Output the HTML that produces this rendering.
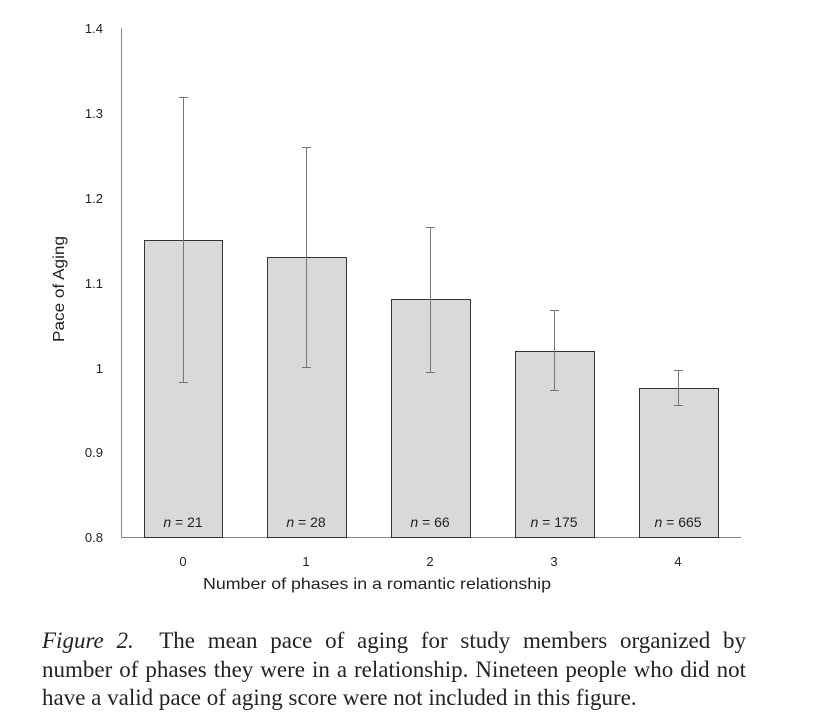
<!DOCTYPE html>
<html><head><style>
body{margin:0;background:#fff;width:826px;height:723px;overflow:hidden}
.cap{position:absolute;left:42px;top:627px;width:704px;font-family:"Liberation Serif",serif;font-size:23px;line-height:28.5px;color:#222}
.cap div{text-align:justify;text-align-last:justify;white-space:nowrap}
.cap div.last{text-align-last:left}
</style></head><body>
<svg width="826" height="723" style="position:absolute;left:0;top:0" font-family="Liberation Sans, sans-serif">
<g font-size="13" fill="#222" text-anchor="end">
<text x="103" y="33">1.4</text><text x="103" y="118">1.3</text><text x="103" y="203">1.2</text>
<text x="103" y="288">1.1</text><text x="103" y="373">1</text><text x="103" y="457">0.9</text><text x="103" y="542">0.8</text>
</g>
<line x1="121.5" y1="28" x2="121.5" y2="537" stroke="#888" stroke-width="1"/>
<line x1="121" y1="537.5" x2="741" y2="537.5" stroke="#888" stroke-width="1"/>
<g fill="#d9d9d9" stroke="#333" stroke-width="1">
<rect x="144.5" y="240.5" width="78" height="297"/>
<rect x="267.5" y="257.5" width="79" height="280"/>
<rect x="391.5" y="299.5" width="79" height="238"/>
<rect x="515.5" y="351.5" width="79" height="186"/>
<rect x="639.5" y="388.5" width="79" height="149"/>
</g>
<g stroke="#777" stroke-width="1">
<line x1="183.5" y1="97" x2="183.5" y2="383"/><line x1="179" y1="97.5" x2="188" y2="97.5"/><line x1="179" y1="382.5" x2="188" y2="382.5"/>
<line x1="306.5" y1="147" x2="306.5" y2="368"/><line x1="302" y1="147.5" x2="311" y2="147.5"/><line x1="302" y1="367.5" x2="311" y2="367.5"/>
<line x1="430.5" y1="227" x2="430.5" y2="373"/><line x1="426" y1="227.5" x2="435" y2="227.5"/><line x1="426" y1="372.5" x2="435" y2="372.5"/>
<line x1="554.5" y1="310" x2="554.5" y2="391"/><line x1="550" y1="310.5" x2="559" y2="310.5"/><line x1="550" y1="390.5" x2="559" y2="390.5"/>
<line x1="678.5" y1="370" x2="678.5" y2="406"/><line x1="674" y1="370.5" x2="683" y2="370.5"/><line x1="674" y1="405.5" x2="683" y2="405.5"/>
</g>
<g font-size="14" fill="#222" text-anchor="middle">
<text x="183" y="527"><tspan font-style="italic">n</tspan> = 21</text>
<text x="306" y="527"><tspan font-style="italic">n</tspan> = 28</text>
<text x="430" y="527"><tspan font-style="italic">n</tspan> = 66</text>
<text x="554" y="527"><tspan font-style="italic">n</tspan> = 175</text>
<text x="678" y="527"><tspan font-style="italic">n</tspan> = 665</text>
<text x="183" y="566" font-size="13">0</text><text x="306" y="566" font-size="13">1</text><text x="430" y="566" font-size="13">2</text><text x="554" y="566" font-size="13">3</text><text x="678" y="566" font-size="13">4</text>
<text x="377" y="589" font-size="16" textLength="348" lengthAdjust="spacingAndGlyphs">Number of phases in a romantic relationship</text>
<text transform="translate(64,289) rotate(-90)" font-size="16" textLength="106" lengthAdjust="spacingAndGlyphs">Pace of Aging</text>
</g>
</svg>
<div class="cap"><div><i>Figure 2.</i>&nbsp;&nbsp;The mean pace of aging for study members organized by</div><div>number of phases they were in a relationship. Nineteen people who did not</div><div class="last">have a valid pace of aging score were not included in this figure.</div></div>
</body></html>
